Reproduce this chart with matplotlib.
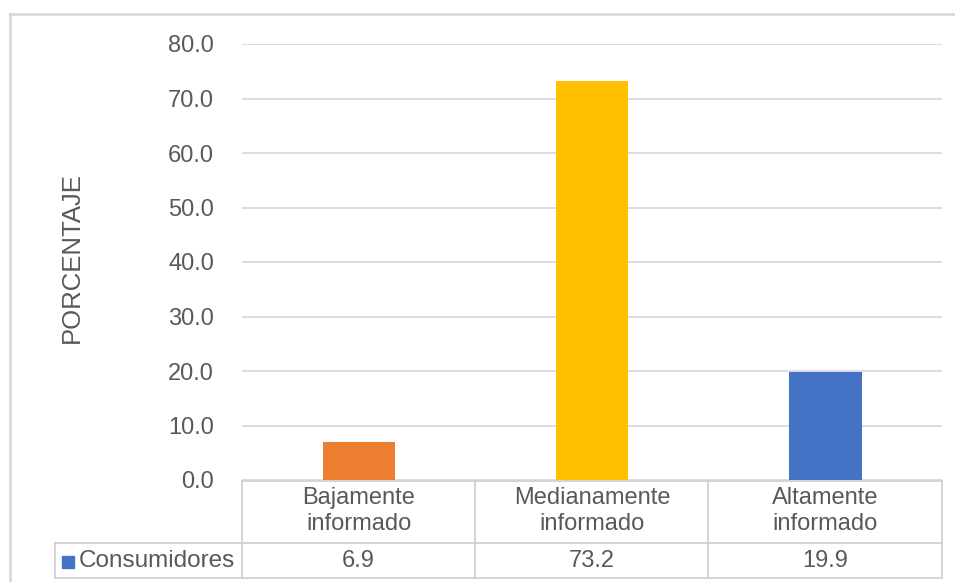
import matplotlib.pyplot as plt
from matplotlib.lines import Line2D
from matplotlib.patches import Rectangle

plt.rcParams['font.family'] = ['Liberation Sans', 'DejaVu Sans']

categorias = ['Bajamente\ninformado', 'Medianamente\ninformado', 'Altamente\ninformado']
valores = [6.9, 73.2, 19.9]
etiquetas = ['6.9', '73.2', '19.9']
colores = ['#ED7D31', '#FFC000', '#4472C4']
serie = 'Consumidores'

W, H = 955, 582
gris = '#595959'
linea = '#d9d9d9'


def fx(x):
    return x / W


def fy(y):
    return 1 - y / H


fig = plt.figure(figsize=(W / 100, H / 100), dpi=100)
ax = fig.add_axes([fx(242), fy(480), fx(942) - fx(242), fy(44) - fy(480)])

x = range(len(categorias))
ax.bar(x, valores, width=0.31, color=colores, zorder=3)
ax.set_xlim(-0.5, 2.5)
ax.set_ylim(0, 80)
ax.set_yticks(range(0, 81, 10))
ax.set_yticklabels([f'{v:.1f}' for v in range(0, 81, 10)])
ax.tick_params(axis='y', length=0, labelsize=17, labelcolor=gris, pad=20)
ax.set_xticks([])
ax.grid(axis='y', color=linea, linewidth=1.3, zorder=0)
for s in ax.spines.values():
    s.set_visible(False)
ax.set_ylabel('PORCENTAJE', fontsize=18.5, color=gris, va='center')
ax.yaxis.set_label_coords((72 - 242) / 700, (480 - 258) / 436)

# borde exterior
fig.add_artist(Line2D([fx(10), fx(10)], [fy(14), 0], color=linea, lw=2))
fig.add_artist(Line2D([fx(10), 1], [fy(14), fy(14)], color=linea, lw=2))

# tabla de datos
tc = '#d0d0d0'
for xv in [242, 475, 708, 942]:
    fig.add_artist(Line2D([fx(xv), fx(xv)], [fy(481), fy(578)], color=tc, lw=1.3))
fig.add_artist(Line2D([fx(55), fx(55)], [fy(543), fy(578)], color=tc, lw=1.3))
fig.add_artist(Line2D([fx(242), fx(942)], [fy(481), fy(481)], color=tc, lw=1.3))
fig.add_artist(Line2D([fx(55), fx(942)], [fy(543), fy(543)], color=tc, lw=1.3))
fig.add_artist(Line2D([fx(55), fx(942)], [fy(578), fy(578)], color=tc, lw=1.3))

for i, (c, e) in enumerate(zip(categorias, etiquetas)):
    cx = 242 + 233.33 * (i + 0.5)
    fig.text(fx(cx), fy(511), c, ha='center', va='center', fontsize=17,
             color=gris, linespacing=1.2)
    fig.text(fx(cx), fy(561), e, ha='center', va='center', fontsize=17, color=gris)

fig.add_artist(Rectangle((fx(62), fy(568)), fx(12), fy(556) - fy(568),
                         color='#4472C4', transform=fig.transFigure))
fig.text(fx(79), fy(561), serie, ha='left', va='center', fontsize=17.5, color=gris)

fig.savefig('out.png', dpi=100)
